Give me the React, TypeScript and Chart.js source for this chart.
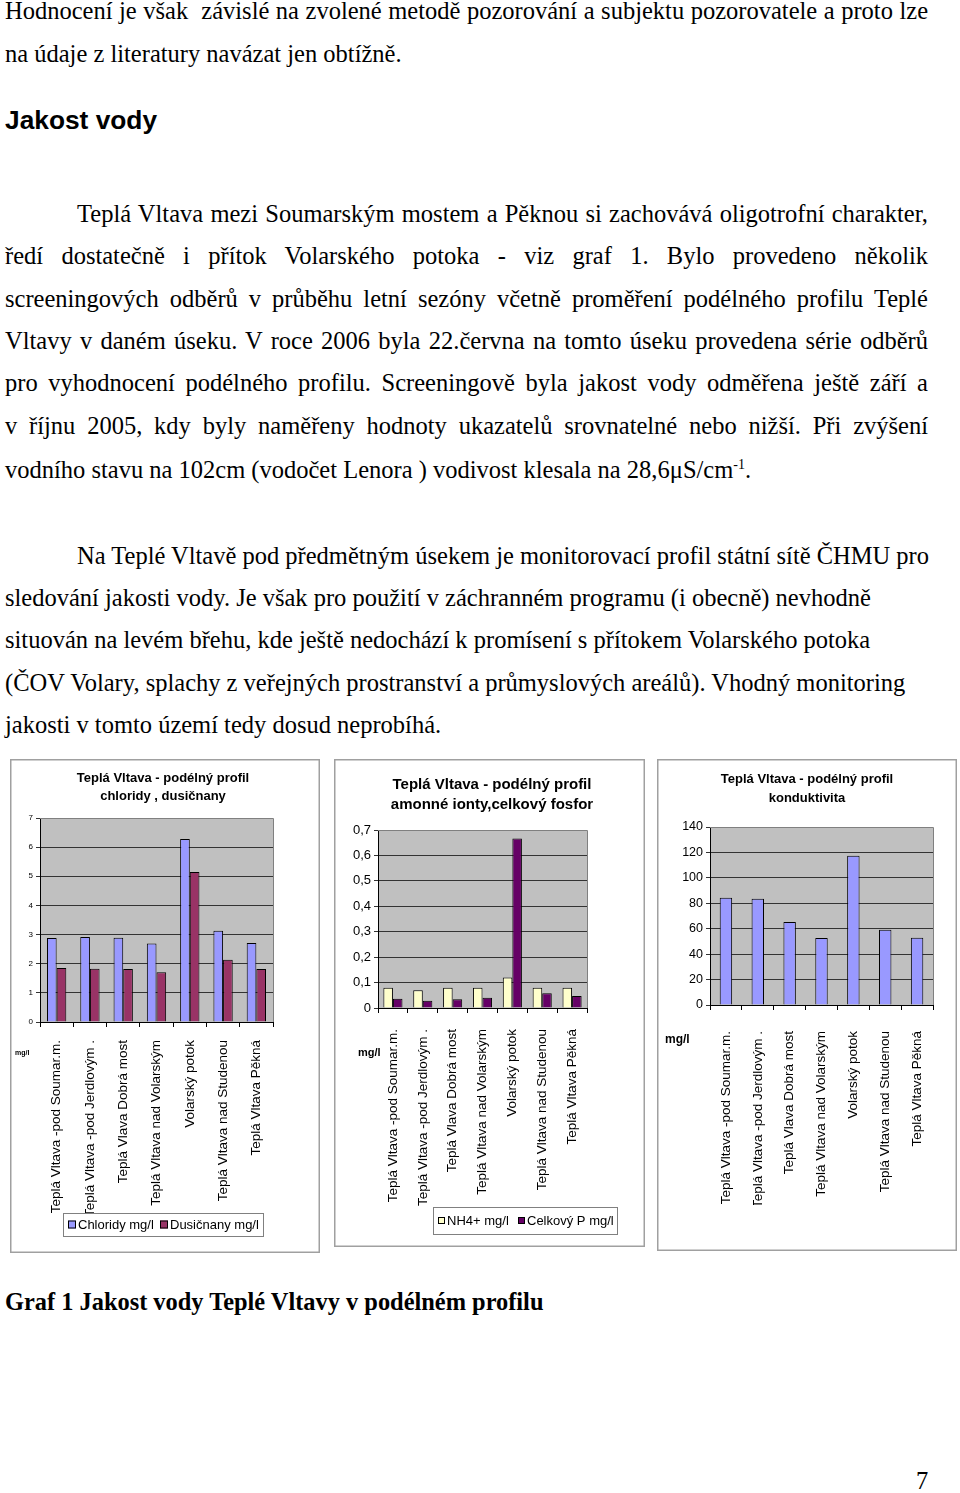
import React, { useEffect, useRef } from 'react';
import { Chart, registerables } from 'chart.js';

Chart.register(...registerables);

// ---------- data ----------
const categories = [
  'Teplá Vltava -pod Soumar.m.',
  'Teplá Vltava -pod Jerdlovým .',
  'Teplá Vlava Dobrá most',
  'Teplá Vltava nad Volarským',
  'Volarský potok',
  'Teplá Vltava nad Studenou',
  'Teplá Vltava Pěkná',
];
const chloridy = [2.88, 2.92, 2.89, 2.69, 6.28, 3.13, 2.71];
const dusicnany = [1.85, 1.83, 1.82, 1.71, 5.15, 2.14, 1.82];
const nh4 = [0.08, 0.07, 0.08, 0.08, 0.12, 0.08, 0.08];
const celkovyP = [0.036, 0.029, 0.034, 0.04, 0.667, 0.058, 0.047];
const konduktivita = [84.3, 83.5, 65.2, 52.6, 117.4, 59.1, 52.8];

const yMax1 = 7;
const yStep1 = 1;
const yMax2 = 0.7;
const yStep2 = 0.1;
const yMax3 = 140;
const yStep3 = 20;

const title1 = ['Teplá Vltava - podélný profil', 'chloridy , dusičnany'];
const title2 = ['Teplá Vltava - podélný profil', 'amonné ionty,celkový fosfor'];
const title3 = ['Teplá Vltava - podélný profil', 'konduktivita'];
const unitLabel = 'mg/l';

const SANS = '"Liberation Sans", Arial, sans-serif';
const SERIF = '"Liberation Serif", "Times New Roman", serif';

type DS = { label: string; data: number[]; color: string };
type Spec = {
  left: number; top: number; width: number; height: number;
  pad: { left: number; right: number; top: number; bottom: number };
  yWidth: number; xHeight: number;
  yMax: number; yStep: number; yFont: number; yFmt: (v: number) => string;
  xFont: number; xPad: number;
  datasets: DS[];
  catPct: number; barPct: number;
  title: string[]; titleFont: number; titleX: number; titleY: number[];
  unit: { x: number; y: number; font: number };
  legend?: { x: number; y: number; w: number; h: number; font: number; sq: number; items: number[] };
};

const specs: Spec[] = [
  {
    left: 10, top: 759, width: 310, height: 494,
    pad: { left: 12, right: 47, top: 59, bottom: 31 },
    yWidth: 18, xHeight: 200,
    yMax: yMax1, yStep: yStep1, yFont: 8, yFmt: (v) => String(Math.round(v)),
    xFont: 13.5, xPad: 13,
    datasets: [
      { label: 'Chloridy mg/l', data: chloridy, color: '#9999ff' },
      { label: 'Dusičnany mg/l', data: dusicnany, color: '#993366' },
    ],
    catPct: 0.58, barPct: 1,
    title: title1, titleFont: 13, titleX: 153, titleY: [19, 37],
    unit: { x: 5, y: 294, font: 7 },
    legend: { x: 53, y: 454, w: 200, h: 23, font: 13, sq: 8, items: [58, 150] },
  },
  {
    left: 334, top: 759, width: 311, height: 488,
    pad: { left: 14, right: 58, top: 71, bottom: 39 },
    yWidth: 30, xHeight: 200,
    yMax: yMax2, yStep: yStep2, yFont: 13,
    yFmt: (v) => (Math.abs(v) < 1e-9 ? '0' : v.toFixed(1).replace('.', ',')),
    xFont: 13.5, xPad: 16,
    datasets: [
      { label: 'NH4+ mg/l', data: nh4, color: '#ffffcc' },
      { label: 'Celkový P mg/l', data: celkovyP, color: '#660066' },
    ],
    catPct: 0.64, barPct: 1,
    title: title2, titleFont: 15, titleX: 158, titleY: [26, 46],
    unit: { x: 24, y: 294, font: 11 },
    legend: { x: 99, y: 448, w: 184, h: 27, font: 13, sq: 7, items: [104, 184] },
  },
  {
    left: 657, top: 759, width: 300, height: 492,
    pad: { left: 23, right: 24, top: 68, bottom: 46 },
    yWidth: 30, xHeight: 200,
    yMax: yMax3, yStep: yStep3, yFont: 12.5, yFmt: (v) => String(Math.round(v)),
    xFont: 13.5, xPad: 21,
    datasets: [{ label: 'Konduktivita', data: konduktivita, color: '#9999ff' }],
    catPct: 1, barPct: 0.39,
    title: title3, titleFont: 13, titleX: 150, titleY: [20, 39],
    unit: { x: 8, y: 281, font: 12 },
  },
];

function decorPlugin(spec: Spec) {
  return {
    id: 'decor',
    beforeDraw(chart: any) {
      const { ctx, chartArea: a } = chart;
      ctx.save();
      ctx.fillStyle = '#ffffff';
      ctx.fillRect(0, 0, chart.width, chart.height);
      ctx.fillStyle = '#c0c0c0';
      ctx.fillRect(a.left, a.top, a.right - a.left, a.bottom - a.top);
      ctx.restore();
    },
    afterDraw(chart: any) {
      const { ctx, chartArea: a } = chart;
      ctx.save();
      ctx.strokeStyle = '#808080';
      ctx.lineWidth = 1;
      ctx.beginPath();
      ctx.moveTo(Math.round(a.left), Math.round(a.top) + 0.5);
      ctx.lineTo(Math.round(a.right) + 0.5, Math.round(a.top) + 0.5);
      ctx.lineTo(Math.round(a.right) + 0.5, Math.round(a.bottom));
      ctx.stroke();
      ctx.strokeStyle = '#a0a0a0';
      ctx.lineWidth = 1.5;
      ctx.strokeRect(0.75, 0.75, chart.width - 1.5, chart.height - 1.5);
      ctx.fillStyle = '#000';
      ctx.textAlign = 'center';
      ctx.textBaseline = 'middle';
      ctx.font = `bold ${spec.titleFont}px ${SANS}`;
      spec.title.forEach((t, i) => ctx.fillText(t, spec.titleX, spec.titleY[i]));
      ctx.textAlign = 'left';
      ctx.font = `bold ${spec.unit.font}px ${SANS}`;
      ctx.fillText(unitLabel, spec.unit.x, spec.unit.y);
      const lg = spec.legend;
      if (lg) {
        ctx.fillStyle = '#fff';
        ctx.fillRect(lg.x, lg.y, lg.w, lg.h);
        ctx.strokeStyle = '#808080';
        ctx.lineWidth = 1;
        ctx.strokeRect(lg.x + 0.5, lg.y + 0.5, lg.w, lg.h);
        const cy = lg.y + lg.h / 2;
        ctx.font = `${lg.font}px ${SANS}`;
        spec.datasets.forEach((d, i) => {
          const x = lg.items[i];
          ctx.fillStyle = d.color;
          ctx.fillRect(x, cy - lg.sq / 2, lg.sq, lg.sq);
          ctx.strokeStyle = '#000';
          ctx.strokeRect(x + 0.5, cy - lg.sq / 2 + 0.5, lg.sq - 1, lg.sq - 1);
          ctx.fillStyle = '#000';
          ctx.fillText(d.label, x + lg.sq + 2, cy + 0.5);
        });
      }
      ctx.restore();
    },
  };
}

function ChartBox({ spec }: { spec: Spec }) {
  const ref = useRef<HTMLCanvasElement>(null);
  useEffect(() => {
    if (!ref.current) return;
    const chart = new Chart(ref.current, {
      type: 'bar',
      data: {
        labels: categories,
        datasets: spec.datasets.map((d) => ({
          label: d.label,
          data: d.data,
          backgroundColor: d.color,
          borderColor: '#000',
          borderWidth: 1,
          categoryPercentage: spec.catPct,
          barPercentage: spec.barPct,
        })),
      },
      options: {
        animation: false,
        responsive: false,
        maintainAspectRatio: false,
        devicePixelRatio: 1,
        layout: { padding: spec.pad },
        plugins: {
          legend: { display: false },
          title: { display: false },
          tooltip: { enabled: false },
        },
        scales: {
          x: {
            grid: { display: true, drawOnChartArea: false, drawTicks: true, tickLength: 5, color: '#000', offset: true },
            border: { display: true, color: '#000' },
            ticks: {
              minRotation: 90, maxRotation: 90, autoSkip: false,
              font: { family: SANS, size: spec.xFont }, color: '#000', padding: spec.xPad,
            },
            afterFit: (s: any) => { s.height = spec.xHeight; },
          },
          y: {
            min: 0, max: spec.yMax,
            grid: { color: '#333', tickLength: 4, drawTicks: true },
            border: { display: true, color: '#000' },
            ticks: {
              stepSize: spec.yStep,
              font: { family: SANS, size: spec.yFont }, color: '#000', padding: 3,
              callback: (v: any) => spec.yFmt(Number(v)),
            },
            afterFit: (s: any) => { s.width = spec.yWidth; },
          },
        },
      } as any,
      plugins: [decorPlugin(spec)],
    });
    return () => chart.destroy();
  }, [spec]);
  return (
    <canvas
      ref={ref}
      width={spec.width}
      height={spec.height}
      style={{ position: 'absolute', left: spec.left, top: spec.top, width: spec.width, height: spec.height }}
    />
  );
}

const FS = 24.5;
function Line({ x, base, w, justify, bold, fs, ws, children }: any) {
  const f = fs || FS;
  return (
    <div
      style={{
        position: 'absolute', left: x, top: base - Math.round(f * 0.835), width: w,
        fontFamily: SERIF, fontSize: f, lineHeight: `${f}px`,
        fontWeight: bold ? 'bold' : 'normal', color: '#000',
        textAlign: justify ? 'justify' : 'left',
        textAlignLast: justify ? 'justify' : 'auto',
        whiteSpace: justify ? 'normal' : 'nowrap',
        wordSpacing: ws || 0,
      } as any}
    >
      {children}
    </div>
  );
}

export default function App() {
  const R = 928;
  return (
    <div style={{ position: 'absolute', left: 0, top: 0, width: 960, height: 1493, background: '#fff', overflow: 'hidden' }}>
      <Line x={5} base={19} w={R - 5} justify ws={-3}>Hodnocení je však{'\u00a0'} závislé na zvolené metodě pozorování a subjektu pozorovatele a proto lze</Line>
      <Line x={5} base={62}>na údaje z literatury navázat jen obtížně.</Line>
      <div style={{ position: 'absolute', left: 5, top: 107, fontFamily: SANS, fontWeight: 'bold', fontSize: 26.3, lineHeight: '26px', whiteSpace: 'nowrap' }}>Jakost vody</div>
      <Line x={77} base={222} w={R - 77} justify>Teplá Vltava mezi Soumarským mostem a Pěknou  si zachovává oligotrofní charakter,</Line>
      <Line x={5} base={264} w={R - 5} justify>ředí dostatečně i přítok Volarského potoka - viz graf 1. Bylo provedeno několik</Line>
      <Line x={5} base={307} w={R - 5} justify>screeningových  odběrů v průběhu letní sezóny včetně proměření podélného profilu Teplé</Line>
      <Line x={5} base={349} w={R - 5} justify>Vltavy v daném úseku. V roce 2006 byla 22.června  na tomto úseku provedena série odběrů</Line>
      <Line x={5} base={391} w={R - 5} justify>pro vyhodnocení podélného profilu. Screeningově byla jakost vody odměřena ještě září a</Line>
      <Line x={5} base={434} w={R - 5} justify>v říjnu 2005, kdy byly naměřeny hodnoty ukazatelů srovnatelné nebo nižší. Při zvýšení</Line>
      <Line x={5} base={478}>vodního stavu na 102cm (vodočet Lenora ) vodivost klesala na 28,6μS/cm<span style={{ fontSize: 14, position: 'relative', top: -9, lineHeight: 0 }}>-1</span>.</Line>
      <Line x={77} base={564}>Na Teplé Vltavě pod předmětným úsekem je monitorovací profil státní sítě ČHMU pro</Line>
      <Line x={5} base={606}>sledování jakosti vody. Je však pro použití v záchranném programu (i obecně) nevhodně</Line>
      <Line x={5} base={648}>situován na levém břehu, kde ještě nedochází k promísení s přítokem Volarského potoka</Line>
      <Line x={5} base={691}>(ČOV Volary,  splachy z veřejných prostranství a průmyslových areálů). Vhodný monitoring</Line>
      <Line x={5} base={733}>jakosti v tomto území tedy dosud neprobíhá.</Line>
      {specs.map((s, i) => <ChartBox key={i} spec={s} />)}
      <Line x={5} base={1310} bold fs={24.4}>Graf 1 Jakost vody Teplé Vltavy v podélném profilu</Line>
      <Line x={916} base={1489}>7</Line>
    </div>
  );
}
